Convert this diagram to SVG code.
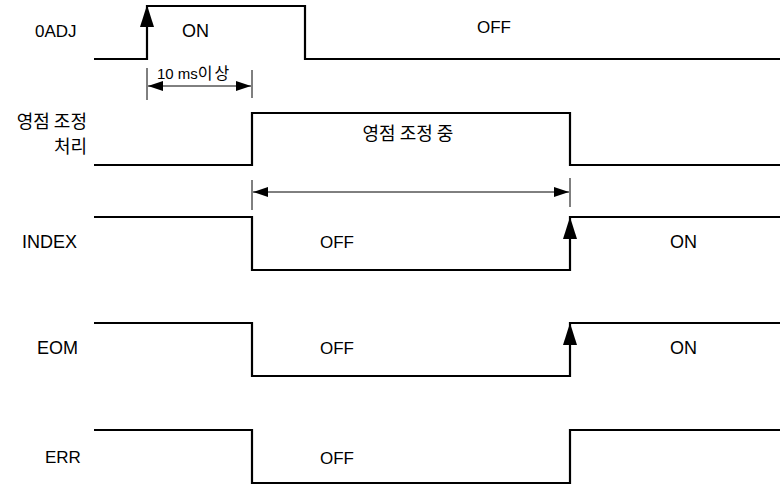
<svg xmlns="http://www.w3.org/2000/svg" width="780" height="486" viewBox="0 0 780 486">
<style>
.sig{fill:none;stroke:#000;stroke-width:2.2;stroke-linejoin:miter}
.dim{fill:none;stroke:#000;stroke-width:1}
.t{font-family:"Liberation Sans","Noto Sans CJK KR",sans-serif;font-size:17px;fill:#000}
.w{font-size:18px}
.k{font-family:"Noto Sans CJK KR",sans-serif;font-size:18px;fill:#000}
.s{font-family:"Liberation Sans","Noto Sans CJK KR",sans-serif;font-size:15px;fill:#000}
.ah{fill:#000}
</style>
<defs>
<marker id="da" viewBox="0 0 15 10" refX="15" refY="5" markerWidth="15" markerHeight="10" markerUnits="userSpaceOnUse" orient="auto-start-reverse">
<path d="M0,0 L15,5 L0,10 Z" fill="#000"/>
</marker>
</defs>
<rect width="780" height="486" fill="#fff"/>
<g id="label-0adj"><text class="t" x="35" y="37">0ADJ</text></g>
<g id="label-zero"><text class="k" x="87" y="128" text-anchor="end" font-size="17">영점 조정</text><text class="k" x="87" y="153" text-anchor="end" font-size="17">처리</text></g>
<g id="label-index"><text class="t w" x="22" y="248">INDEX</text></g>
<g id="label-eom"><text class="t w" x="37" y="354">EOM</text></g>
<g id="label-err"><text class="t" x="45" y="463">ERR</text></g>
<g id="sig-0adj">
<path class="sig" d="M94,59 H147 V6 H305 V59 H780"/>
<path class="ah" d="M147,5 L154,27 L140,27 Z"/>
<text class="t w" x="182" y="37">ON</text>
<text class="t" x="477" y="33">OFF</text>
</g>
<g id="sig-zero">
<path class="sig" d="M94,165 H252 V113 H570 V165 H780"/>
<text class="k" x="408" y="140" text-anchor="middle" font-size="19">영점 조정 중</text>
</g>
<g id="sig-index">
<path class="sig" d="M94,217 H252 V270 H570 V217 H780"/>
<path class="ah" d="M570,217 L577,239 L563,239 Z"/>
<text class="t" x="320" y="248">OFF</text>
<text class="t w" x="670" y="248">ON</text>
</g>
<g id="sig-eom">
<path class="sig" d="M94,323 H252 V376 H570 V323 H780"/>
<path class="ah" d="M570,323 L577,345 L563,345 Z"/>
<text class="t" x="320" y="354">OFF</text>
<text class="t w" x="670" y="354">ON</text>
</g>
<g id="sig-err">
<path class="sig" d="M94,430 H252 V483 H570 V430 H780"/>
<text class="t" x="320" y="464">OFF</text>
</g>
<g id="connectors">
<path class="dim" d="M147,68 V100 M252,70 V98"/>
<path class="dim" d="M148,86 H251" marker-start="url(#da)" marker-end="url(#da)"/>
<text class="s" x="157" y="79">10 ms<tspan font-family="Noto Sans CJK KR, sans-serif" font-size="16" letter-spacing="2">이상</tspan></text>
<path class="dim" d="M252,180 V210 M570,178 V207"/>
<path class="dim" d="M253,192 H569" marker-start="url(#da)" marker-end="url(#da)"/>
</g>
</svg>
